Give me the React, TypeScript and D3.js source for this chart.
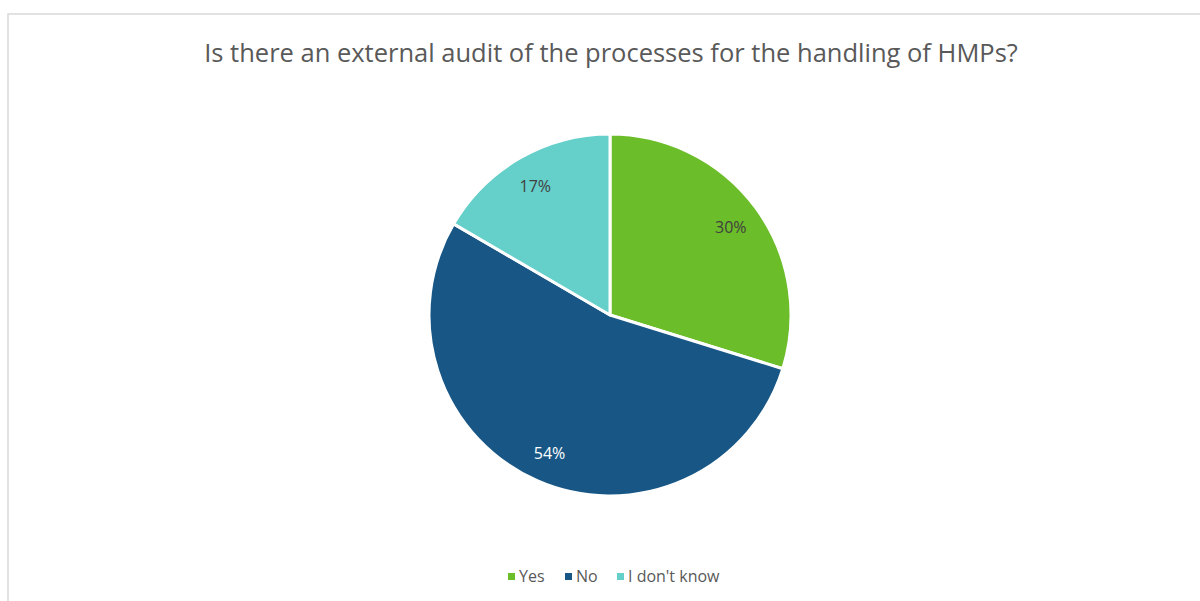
import React from "react";
import * as d3 from "d3";

const categories = ["Yes", "No", "I don't know"];
const values = [29.8, 53.6, 16.6];
const colors = ["#6bbd29", "#185785", "#65cfca"];
const labelColors = ["#404040", "#ffffff", "#404040"];
const title = "Is there an external audit of the processes for the handling of HMPs?";

export default function App() {
  const W = 1200, H = 601;
  const cx = 610, cy = 315, R = 181;
  const pie = d3.pie<number>().sort(null).value((d) => d);
  const arcs = pie(values);
  const arc = d3.arc<d3.PieArcDatum<number>>().innerRadius(0).outerRadius(R);
  const labelArc = d3.arc<d3.PieArcDatum<number>>().innerRadius(150).outerRadius(150);
  const font = "'Open Sans', 'Liberation Sans', sans-serif";
  const legendX = [508, 565, 617];
  return (
    <svg width={W} height={H} style={{ position: "absolute", left: 0, top: 0 }}>
      <rect x={0} y={0} width={W} height={H} fill="#fff" />
      <rect x={8} y={14} width={W + 20} height={H + 20} fill="none" stroke="#d9d9d9" strokeWidth={1.5} />
      <text x={611} y={62} textAnchor="middle" fontFamily={font} fontSize={25.5} fill="#595959">{title}</text>
      <g transform={`translate(${cx},${cy})`}>
        {arcs.map((a, i) => (
          <path key={i} d={arc(a) || ""} fill={colors[i]} stroke="#fff" strokeWidth={3} strokeLinejoin="round" />
        ))}
        {arcs.map((a, i) => {
          const [x, y] = labelArc.centroid(a);
          return (
            <text key={i} x={x} y={y} dy="0.45em" textAnchor="middle" fontFamily={font} fontSize={16} fill={labelColors[i]}>
              {`${Math.round(values[i])}%`}
            </text>
          );
        })}
      </g>
      {categories.map((c, i) => (
        <g key={c}>
          <rect x={legendX[i]} y={573} width={7} height={7} fill={colors[i]} />
          <text x={legendX[i] + 11} y={582} fontFamily={font} fontSize={16} fill="#595959">{c}</text>
        </g>
      ))}
    </svg>
  );
}
